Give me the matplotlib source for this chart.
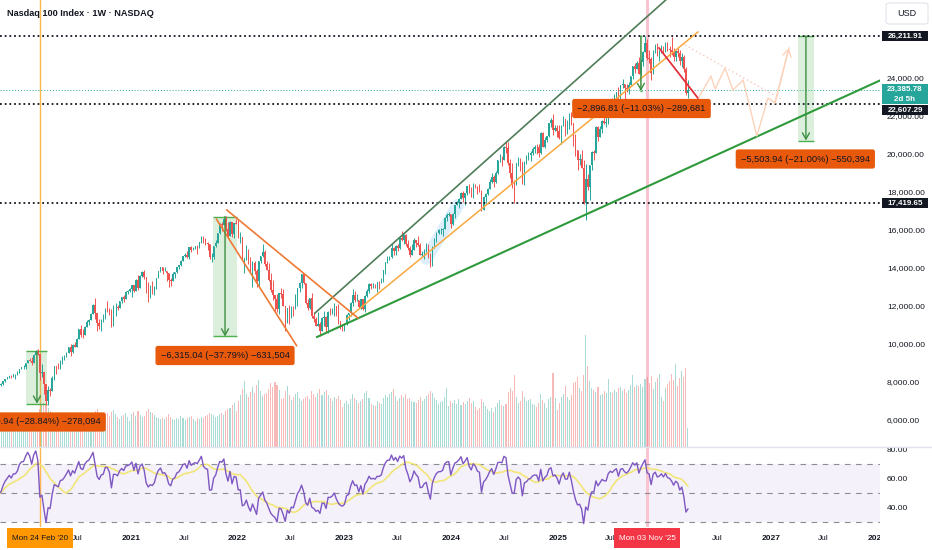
import numpy as np
import pandas as pd
import matplotlib
matplotlib.use("Agg")
import matplotlib.pyplot as plt
import matplotlib.dates as mdates
import matplotlib.transforms as mtrans
from matplotlib.patches import Rectangle, FancyBboxPatch
from matplotlib.lines import Line2D

plt.rcParams['font.family'] = ['Liberation Sans', 'DejaVu Sans']

# ---------------- weekly data (Nasdaq 100, 1W), weeks start 2019-07-01 ----------------
first_week = '2019-07-01'

close_2019 = [7860, 7940, 7830, 7990, 7640, 7580, 7530, 7350, 7630, 7850, 7900, 7820, 7700, 7750,
              7850, 7880, 8040, 8160, 8240, 8330, 8280, 8400, 8400, 8480, 8690, 8780, 8790]
high_2019 = [7880, 7960, 8000, 8000, 8030, 7640, 7670, 7700, 7660, 7870, 7940, 7950, 7880, 7780,
             7890, 7960, 8060, 8170, 8270, 8340, 8350, 8430, 8420, 8560, 8700, 8800, 8870]
low_2019 = [7700, 7810, 7810, 7820, 7580, 7260, 7420, 7320, 7340, 7550, 7820, 7800, 7620, 7480,
            7600, 7800, 7850, 8020, 8150, 8220, 8200, 8300, 8170, 8360, 8520, 8690, 8700]
vol_2019 = [1.9, 2.0, 1.8, 2.1, 2.6, 2.5, 2.2, 2.3, 2.1, 2.2, 2.3, 2.0, 2.1, 2.4,
            2.2, 2.1, 2.3, 2.2, 2.0, 2.1, 2.2, 1.9, 2.3, 2.1, 2.5, 2.2, 1.7]

close_2020 = [8990, 9170, 9120, 9000, 9400, 9620, 9450, 8460, 8530, 7880, 6990, 7590, 7530,
              8230, 8830, 8780, 8720, 9120, 9150, 9320, 9550, 9820, 9590, 9950, 9850, 10280,
              10770, 10500, 10460, 10900, 11140, 11250, 11600, 12050, 11620, 11090, 10940, 11260,
              11320, 11860, 11850, 11670, 10940, 11940, 11940, 11870, 12260, 12470, 12380, 12760,
              12800, 12890]
high_2020 = [9020, 9180, 9280, 9300, 9470, 9640, 9720, 9250, 8930, 8370, 7850, 7810, 7660,
             8330, 8840, 8800, 9020, 9140, 9350, 9400, 9560, 9850, 10010, 10000, 10120, 10330,
             10790, 11000, 10800, 10940, 11240, 11330, 11650, 12090, 12440, 11600, 11330, 11320,
             11590, 11880, 12250, 11920, 11820, 12070, 12170, 12030, 12270, 12480, 12590, 12770,
             12840, 12970]
low_2020 = [8710, 8980, 9090, 8900, 9030, 9420, 9400, 8090, 8240, 7390, 6770, 6780, 7290,
            7820, 8120, 8430, 8660, 8700, 8930, 9220, 9330, 9550, 9390, 9520, 9820, 9840,
            10360, 10350, 10320, 10480, 10900, 10990, 11260, 11600, 11300, 10660, 10800, 10680,
            11150, 11300, 11700, 11530, 10870, 11030, 11470, 11780, 11910, 12160, 12200, 12430,
            12610, 12740]
vol_2020 = [2.3, 2.4, 2.5, 2.9, 2.6, 2.4, 2.5, 3.8, 4.2, 4.4, 4.3, 3.9, 3.6, 3.2, 3.4, 3.1, 3.3,
            3.0, 3.2, 2.9, 2.8, 3.3, 3.4, 3.0, 3.2, 3.1, 3.3, 3.5, 3.0, 3.4, 3.2, 3.1, 3.0, 3.3,
            3.6, 3.8, 3.4, 3.3, 3.0, 3.2, 3.4, 3.1, 3.5, 3.7, 3.3, 3.0, 2.8, 3.1, 3.2, 3.4, 3.0, 2.6]

close_2021 = [13100, 12800, 13370, 12930, 13600, 13800, 13530, 12900, 12670, 12820, 12780, 12950,
              13480, 13850, 14040, 13820, 13860, 13720, 13390, 13300, 13690, 13770, 14070, 14140,
              14360, 14640, 14700, 14560, 15110, 14960, 15080, 15150, 15120, 15370, 15650, 15370,
              15300, 15280, 14570, 14580, 15150, 15330, 15850, 16320, 16290, 16570, 16030, 15710,
              16410, 15790, 16360, 16320]
high_2021 = [13110, 13040, 13400, 13630, 13630, 13820, 13880, 13520, 13270, 13120, 13300, 13060,
             13490, 13860, 14060, 14010, 14060, 13850, 13740, 13480, 13770, 13800, 14080, 14170,
             14400, 14650, 14800, 14900, 15120, 15170, 15130, 15170, 15190, 15380, 15670, 15700,
             15560, 15360, 15290, 14780, 15160, 15450, 15860, 16350, 16400, 16640, 16760, 16440,
             16450, 16440, 16380, 16570]
low_2021 = [12480, 12750, 12960, 12830, 13000, 13530, 13400, 12680, 12210, 12400, 12640, 12600,
            12900, 13490, 13800, 13700, 13820, 13320, 12990, 13080, 13350, 13500, 13760, 13930,
            14090, 14420, 14590, 14530, 14460, 14820, 14950, 14990, 14720, 15080, 15340, 15340,
            15200, 14940, 14450, 14300, 14490, 15100, 15310, 15800, 15970, 16260, 15960, 15560,
            15760, 15610, 15570, 16310]
vol_2021 = [3.3, 3.5, 3.1, 3.6, 3.2, 3.0, 3.1, 3.6, 3.8, 3.5, 3.4, 3.2, 3.0, 2.9, 2.8, 2.9, 2.8,
            3.0, 3.3, 3.0, 2.8, 2.7, 2.9, 2.8, 3.1, 2.9, 2.7, 2.9, 3.0, 3.1, 2.8, 2.6, 2.9, 2.8,
            3.0, 2.9, 3.1, 3.2, 3.4, 3.3, 3.2, 3.0, 3.1, 3.3, 3.4, 3.2, 3.6, 3.8, 3.9, 4.2, 4.4, 3.6]

close_2022 = [15600, 15610, 14440, 14510, 14790, 14250, 13850, 14270, 13840, 13300, 14370, 14610,
              14840, 14190, 13900, 13370, 12850, 12580, 12390, 11840, 12680, 12620, 12010, 11130,
              11870, 11530, 11960, 11880, 12400, 12950, 13210, 13690, 13190, 12140, 11870, 12430,
              11450, 11310, 10970, 11040, 10690, 11390, 11400, 10880, 11700, 11680, 11790, 12010,
              11550, 11200, 11010, 10940]
high_2022 = [16560, 15900, 15420, 14540, 15200, 14980, 14570, 14380, 14390, 13950, 14390, 14650,
             15270, 14930, 14370, 14260, 13720, 13350, 12560, 12610, 12690, 12950, 12900, 11680,
             11890, 12080, 12020, 12000, 12650, 12970, 13260, 13690, 13720, 13200, 12350, 12440,
             12700, 11660, 11440, 11660, 11160, 11430, 11720, 11450, 11730, 11880, 11900, 12140,
             12010, 12120, 11230, 11040]
low_2022 = [15580, 15300, 14410, 13720, 14400, 14220, 13760, 13020, 13700, 13020, 13050, 14240,
            14600, 14100, 13890, 13320, 12760, 12310, 11740, 11680, 11580, 12440, 11990, 10690,
            11140, 11040, 11360, 11500, 11840, 12000, 12760, 12960, 13150, 12130, 11770, 11860,
            11380, 11150, 10970, 11000, 10440, 10730, 10970, 10600, 10560, 11510, 11590, 11450,
            11500, 11040, 10810, 10690]
vol_2022 = [4.6, 5.2, 5.8, 6.6, 5.3, 5.0, 5.5, 6.0, 5.4, 6.2, 6.7, 5.6, 5.1, 5.3, 5.4, 5.8, 6.4,
            6.0, 6.5, 6.2, 5.7, 4.8, 4.9, 5.6, 6.1, 5.2, 4.7, 5.0, 5.3, 5.5, 4.9, 4.6, 4.8, 5.0,
            5.1, 4.8, 5.6, 5.3, 5.0, 5.4, 5.8, 5.2, 5.5, 5.7, 5.2, 4.9, 4.6, 5.0, 4.8, 5.1, 4.7, 4.0]

close_2023 = [11040, 11540, 11620, 12170, 12570, 12300, 12340, 11940, 12350, 11830, 12520, 12770,
              13180, 13030, 13080, 13040, 13250, 13240, 13340, 13870, 14300, 14550, 14560, 15080,
              14890, 15180, 15030, 15570, 15500, 15750, 15270, 15040, 14700, 14940, 15460, 15300,
              15200, 14700, 14720, 14920, 15000, 14570, 14180, 15100, 15530, 15840, 15980, 15990,
              16080, 16620, 16800, 16830]
high_2023 = [11120, 11560, 11640, 12200, 12880, 12800, 12650, 12200, 12360, 12320, 12580, 12890,
             13190, 13200, 13200, 13170, 13260, 13310, 13470, 13900, 14330, 14620, 14650, 15280,
             15090, 15200, 15260, 15640, 15930, 15810, 15790, 15490, 15150, 15240, 15560, 15500,
             15660, 15310, 14870, 15010, 15340, 15290, 14800, 15140, 15580, 15890, 16060, 16090,
             16100, 16660, 16880, 16970]
low_2023 = [10700, 10990, 11250, 11500, 12020, 12200, 12260, 11870, 11820, 11810, 11700, 12470,
            12710, 12910, 12940, 12930, 12720, 12920, 13200, 13280, 13700, 14250, 14400, 14520,
            14690, 14680, 14920, 15020, 15400, 15250, 15150, 14950, 14560, 14710, 15000, 15120,
            15150, 14660, 14580, 14500, 14860, 14550, 14060, 14110, 15030, 15380, 15800, 15770,
            15710, 16080, 16500, 16760]
vol_2023 = [4.4, 4.6, 4.3, 4.8, 5.3, 4.9, 4.7, 4.4, 4.6, 4.8, 5.4, 5.6, 4.9, 4.3, 4.2, 4.1, 4.6,
            4.4, 4.3, 4.9, 5.2, 5.0, 5.3, 5.5, 5.8, 5.1, 4.6, 4.9, 5.2, 5.0, 5.3, 4.8, 4.9, 4.6,
            4.5, 4.4, 4.7, 5.0, 4.6, 4.8, 5.1, 5.3, 5.6, 5.4, 4.9, 4.7, 4.3, 4.5, 4.6, 5.0, 5.9, 4.1]

close_2024 = [16310, 16830, 17310, 17420, 17640, 17960, 17690, 17940, 18300, 17960, 17810, 18340,
              18250, 18050, 18000, 17040, 17720, 17890, 18160, 18550, 18810, 18540, 19000, 19660,
              19700, 19680, 20390, 20330, 19520, 19020, 18440, 18410, 19510, 19720, 19570, 18420,
              19580, 19690, 19950, 20030, 20270, 20360, 20350, 20030, 21120, 20390, 20740, 20930,
              21620, 21780, 21290, 21390, 21200]
high_2024 = [16800, 16900, 17340, 17530, 17680, 18000, 18040, 17970, 18310, 18420, 18280, 18460,
             18420, 18320, 18430, 18090, 17790, 17930, 18200, 18690, 18980, 18900, 19090, 19670,
             19980, 19900, 20400, 20690, 20650, 19720, 19510, 18610, 19530, 19840, 19780, 19440,
             19620, 19960, 20120, 20150, 20350, 20460, 20530, 20550, 21180, 21140, 20900, 20970,
             21650, 21880, 22130, 21550, 21510]
low_2024 = [16130, 16270, 16630, 17300, 17180, 17630, 17480, 17330, 17840, 17940, 17760, 17710,
            18200, 17870, 17980, 17010, 17120, 17440, 17860, 18150, 18490, 18290, 18460, 18960,
            19580, 19350, 19660, 20070, 19430, 18730, 18200, 17420, 18380, 19390, 19090, 18410,
            18370, 19450, 19820, 19650, 19930, 20080, 20000, 19850, 20010, 20360, 20300, 20640,
            20880, 21420, 20980, 21200, 20900]
vol_2024 = [4.6, 4.4, 4.7, 4.3, 4.8, 4.2, 4.5, 4.3, 4.6, 4.9, 4.4, 4.6, 4.0, 3.7, 3.9, 4.8, 4.5,
            4.1, 3.8, 3.6, 3.9, 3.5, 4.0, 4.4, 4.7, 4.2, 4.1, 4.3, 5.5, 5.9, 5.6, 7.2, 5.0, 4.4,
            4.6, 5.6, 5.0, 4.6, 4.7, 4.8, 4.3, 4.2, 4.0, 4.4, 5.3, 4.7, 4.4, 3.9, 4.8, 5.0, 7.4,
            4.9, 3.7]

close_2025 = [20850, 21500, 21850, 21480, 21490, 22110, 21610, 20880, 20200, 19700, 19750, 19280,
              17400, 18690, 18260, 19430, 20100, 20060, 21430, 20920, 21340, 21760, 21630, 21630,
              22530, 22870, 22780, 23070, 23270, 22760, 23610, 23710, 23500, 23420, 23650, 24090,
              24630, 24500, 24790, 24220, 24820, 25360, 25860, 25060, 25000, 24250, 25400, 25650,
              25300, 25400, 25650, 25450]
high_2025 = [21540, 21510, 22000, 21850, 21770, 22140, 22220, 21580, 21070, 20140, 19980, 20200,
             19700, 19450, 18940, 19440, 20140, 20200, 21450, 21480, 21500, 21780, 21990, 21940,
             22540, 22890, 22930, 23140, 23290, 23510, 23650, 23960, 23710, 23700, 23790, 24100,
             24650, 24790, 24900, 25100, 25020, 25400, 26211.91, 26050, 25500, 25100, 25450, 25800,
             25850, 25500, 25750, 25700]
low_2025 = [20800, 20540, 21500, 20950, 21030, 21300, 21550, 20400, 19900, 19150, 19400, 19240,
            17350, 16540, 18090, 17600, 19180, 19700, 20500, 20690, 20900, 21120, 21590, 21440,
            21600, 22480, 22630, 22650, 22930, 22660, 22700, 23470, 22900, 23280, 23150, 23630,
            23960, 24280, 24450, 24200, 24100, 24650, 25400, 24950, 24800, 23900, 24200, 25300,
            25150, 24900, 25300, 25300]
vol_2025 = [4.4, 5.0, 5.3, 6.1, 5.0, 4.7, 5.2, 6.4, 6.5, 7.0, 5.9, 5.6, 7.2, 11.1, 8.0, 6.6, 5.9,
            5.7, 5.5, 6.0, 5.2, 5.3, 5.6, 5.4, 6.8, 5.5, 5.4, 5.7, 5.5, 5.9, 6.0, 5.6, 5.8, 5.4,
            5.7, 6.2, 7.2, 6.0, 6.2, 6.1, 6.3, 6.0, 6.8, 7.0, 6.4, 7.1, 5.8, 6.5, 6.9, 7.3, 5.0, 4.6]

close_2026 = [25800, 25550, 25500, 25350, 25100, 25400, 25300, 24900, 25100, 24500, 23200, 23385.78]
high_2026 = [25900, 25900, 25700, 26150, 25600, 25500, 25600, 25500, 25300, 25200, 24600, 23900]
low_2026 = [25350, 25400, 25100, 25200, 24900, 24900, 25100, 24700, 24600, 24300, 23100, 22950]
vol_2026 = [5.9, 6.3, 6.6, 7.3, 6.7, 8.2, 6.1, 6.9, 7.5, 7.0, 7.8, 1.9]

# ---------------- levels and drawings (dates / prices) ----------------
level_prices = [26211.91, 22607.29, 17419.65]
last_price = 23385.78
price_ticks = [6000, 8000, 10000, 12000, 14000, 16000, 18000, 20000, 22000, 24000]
rsi_ticks = [40, 60, 80]

upper_channel = (['2022-09-23', '2026-01-06'], [11630, 28107])
mid_channel = (['2023-01-10', '2026-04-26'], [11317, 26422])
support_line = (['2022-09-30', '2028-01-13'], [10370, 23896])
down_a = (['2021-11-25', '2023-02-17'], [17054, 11370])
down_b = (['2021-10-21', '2022-07-22'], [16564, 9912])
red_line = (['2025-12-14', '2026-04-26'], [25580, 22949])
path_dates = ['2026-04-30', '2026-06-10', '2026-06-24', '2026-07-28', '2026-08-24',
              '2026-09-28', '2026-11-14', '2026-12-22', '2027-01-15', '2027-03-04']
path_prices = [23001, 24107, 23423, 24528, 23370, 23896, 20949, 22949, 22686, 25580]
hint_line = (['2026-03-13', '2027-02-11'], [25738, 22843])
highlight_stroke = (['2023-10-10', '2024-01-25'], [14500, 17300])

# measure tools: (start, end, arrow date, top, bottom, label, label date, label price)
measures = [
    ('2020-01-07', '2020-03-19', '2020-02-14', 9642.5, 6861.6,
     '\u22122,780.94 (\u221228.84%) \u2212278,094', '2020-02-12', 5896),
    ('2021-10-08', '2021-12-30', '2021-11-19', 16711, 10396,
     '\u22126,315.04 (\u221237.79%) \u2212631,504', '2021-11-19', 9396),
    ('2025-10-10', '2025-10-16', '2025-10-13', 26211.91, 23315.10,
     '\u22122,896.81 (\u221211.03%) \u2212289,681', '2025-10-15', 22396),
    ('2027-04-04', '2027-05-29', '2027-05-01', 26211.91, 20707.97,
     '\u22125,503.94 (\u221221.00%) \u2212550,394', '2027-04-29', 19738),
]
mark_dates = ['2020-02-24', '2025-11-03']
mark_labels = ["Mon 24 Feb '20", "Mon 03 Nov '25"]

# (the 2026 tick sits under the highlighted date box in the reference, so it is not drawn)
date_ticks = ['2020-07-01', '2021-01-01', '2021-07-01', '2022-01-01', '2022-07-01', '2023-01-01',
              '2023-07-01', '2024-01-01', '2024-07-01', '2025-01-01', '2025-07-01',
              '2026-07-01', '2027-01-01', '2027-07-01', '2028-01-01']
date_labels = ['Jul', '2021', 'Jul', '2022', 'Jul', '2023', 'Jul', '2024', 'Jul', '2025', 'Jul',
               'Jul', '2027', 'Jul', '2028']

# ---------------- assemble ----------------
closes = np.array(close_2019 + close_2020 + close_2021 + close_2022 + close_2023 + close_2024
                  + close_2025 + close_2026, dtype=float)
highs = np.array(high_2019 + high_2020 + high_2021 + high_2022 + high_2023 + high_2024
                 + high_2025 + high_2026, dtype=float)
lows = np.array(low_2019 + low_2020 + low_2021 + low_2022 + low_2023 + low_2024
                + low_2025 + low_2026, dtype=float)
vols = np.array(vol_2019 + vol_2020 + vol_2021 + vol_2022 + vol_2023 + vol_2024
                + vol_2025 + vol_2026, dtype=float)
n = min(len(closes), len(highs), len(lows), len(vols))
closes, highs, lows, vols = closes[:n], highs[:n], lows[:n], vols[:n]
dates = pd.date_range(first_week, periods=n, freq='7D')
xs = mdates.date2num(dates)
opens = np.r_[closes[0], closes[:-1]]
up = closes >= opens
highs = np.maximum(highs, np.maximum(opens, closes))
lows = np.minimum(lows, np.minimum(opens, closes))


def rsi_wilder(c, length=14):
    d = np.diff(c, prepend=np.nan)
    g = np.where(d > 0, d, 0.0)
    l = np.where(d < 0, -d, 0.0)
    out = np.full(len(c), np.nan)
    ag = g[1:length + 1].mean()
    al = l[1:length + 1].mean()
    out[length] = 100 - 100 / (1 + ag / al)
    for i in range(length + 1, len(c)):
        ag = (ag * (length - 1) + g[i]) / length
        al = (al * (length - 1) + l[i]) / length
        out[i] = 100.0 if al == 0 else 100 - 100 / (1 + ag / al)
    return out


rsi = rsi_wilder(closes)
rsi_ma = pd.Series(rsi).rolling(14, min_periods=1).mean().values

def dn(s):
    return mdates.date2num(pd.Timestamp(s))

# ---------------- figure ----------------
W, H = 932, 550
PLOT_W, PRICE_BOT, RSI_BOT = 880, 447, 527
fig = plt.figure(figsize=(W / 100, H / 100), dpi=100)
fig.patch.set_facecolor('white')
rect_p = [0, 1 - PRICE_BOT / H, PLOT_W / W, PRICE_BOT / H]
axv = fig.add_axes(rect_p)
ax = fig.add_axes(rect_p, sharex=axv)
ax.patch.set_visible(False)
axr = fig.add_axes([0, 1 - RSI_BOT / H, PLOT_W / W, (RSI_BOT - PRICE_BOT) / H], sharex=axv)

d21 = dn('2021-01-01')
DPP = 365.25 / 106.67
axv.set_xlim(d21 - 131 * DPP, d21 + 749 * DPP)
YMIN, YMAX = 4580, 28107
ax.set_ylim(YMIN, YMAX)
ppu = PRICE_BOT / (YMAX - YMIN)

UP, DN = '#26a69a', '#ef5350'
INK = '#131722'

# volume + background marks
axv.set_axis_off()
axv.set_ylim(0, vols.max() * 4.0)
axv.bar(xs, vols, width=3.6, color=np.where(up, UP, DN), alpha=0.4, lw=0, zorder=2)
mx0, mx1 = dn(mark_dates[0]), dn(mark_dates[1])
for a in (axv, axr):
    a.axvline(mx0, color='#ffb74d', lw=1.0, zorder=1)
    a.axvspan(mx1 - 5, mx1 + 5, color='#f9c4cf', lw=0, zorder=1)

# highlighter stroke
ax.plot([dn(d) for d in highlight_stroke[0]], highlight_stroke[1], color='#90caf9', lw=9,
        alpha=0.3, solid_capstyle='round', zorder=1)

# candles
cols = np.where(up, UP, DN)
ax.vlines(xs, lows, highs, colors=cols, lw=0.7, zorder=3)
ax.bar(xs, np.maximum(np.abs(closes - opens), 30), bottom=np.minimum(opens, closes),
       width=4.6, color=cols, lw=0, zorder=4)

# horizontal levels
for lv in level_prices:
    ax.axhline(lv, color=INK, lw=1.3, ls=(0, (1, 1.6)), zorder=5)
ax.axhline(last_price, color=UP, lw=0.7, ls=(0, (1, 2)), zorder=5)

# trend lines
def seg(spec, **kw):
    ax.plot([dn(d) for d in spec[0]], spec[1], **kw)

seg(upper_channel, color='#4e7d58', lw=1.2, zorder=6)
seg(mid_channel, color='#f9a83f', lw=1.1, zorder=6)
seg(support_line, color='#2f9a3c', lw=1.5, zorder=6)
seg(down_a, color='#ef7a35', lw=1.2, zorder=6)
seg(down_b, color='#ef7a35', lw=1.2, zorder=6)
seg(red_line, color='#e5303e', lw=1.3, zorder=6)
seg(hint_line, color='#f7c6bc', lw=1.0, ls=(0, (1, 2)), zorder=6)
px_path = [dn(d) for d in path_dates]
ax.plot(px_path, path_prices, color='#fcd3ba', lw=1.0, zorder=6)
ax.annotate('', xy=(px_path[-1], path_prices[-1]), xytext=(px_path[-2], path_prices[-2]),
            arrowprops=dict(arrowstyle='->,head_length=0.5,head_width=0.3', color='#fcd3ba',
                            lw=1.0, shrinkA=0, shrinkB=0), zorder=6)

# measure tools
GREEN = '#4caf50'
for d0, d1, da, top, bot, lab, ld, lp in measures:
    x0, x1, xa = dn(d0), dn(d1), dn(da)
    ax.add_patch(Rectangle((x0, bot), x1 - x0, top - bot, fc=GREEN, alpha=0.2, ec='none', zorder=2))
    ax.hlines([top, bot], x0, x1, colors=GREEN, lw=1.0, zorder=2.5)
    ax.annotate('', xy=(xa, bot), xytext=(xa, top),
                arrowprops=dict(arrowstyle='->,head_length=0.45,head_width=0.25', color='#3d8f41',
                                lw=1.0, shrinkA=0, shrinkB=0), zorder=7)
    ax.text(dn(ld), lp, lab, ha='center', va='center', fontsize=6.7, color=INK, zorder=8,
            bbox=dict(boxstyle='round,pad=0.55,rounding_size=0.25', fc='#e8590c', ec='none'))

# price axis
for a in (ax, axr):
    for s in a.spines.values():
        s.set_visible(False)
    a.tick_params(axis='x', bottom=False, labelbottom=False)
    a.yaxis.tick_right()
    a.tick_params(axis='y', length=0, pad=5, labelsize=6, labelcolor=INK)
ax.set_yticks(price_ticks)
ax.set_yticklabels([f'{v:,.2f}' for v in price_ticks])

# price tags
tb = mtrans.blended_transform_factory(ax.transAxes, ax.transData)
def tag(price, lines, fc, tc, top_px, bot_px, text_px):
    ax.add_patch(Rectangle((882 / PLOT_W, price - bot_px / ppu), 46 / PLOT_W,
                           (bot_px - top_px) / ppu, transform=tb, fc=fc, ec='none',
                           clip_on=False, zorder=10))
    for t, off in zip(lines, text_px):
        ax.text(905 / PLOT_W, price - off / ppu, t, transform=tb, ha='center', va='center',
                color=tc, fontsize=5.8, fontweight='bold', clip_on=False, zorder=11)

tag(level_prices[0], [f'{level_prices[0]:,.2f}'], INK, 'white', -5, 5, [0])
tag(level_prices[1], [f'{level_prices[1]:,.2f}'], INK, 'white', 0.8, 10.8, [5.8])
tag(level_prices[2], [f'{level_prices[2]:,.2f}'], INK, 'white', -5, 5, [0])
tag(last_price, [f'{last_price:,.2f}', '2d 5h'], '#26a69a', 'white', -5.7, 14.3, [0, 9.5])

# RSI pane
axr.set_ylim(26.3, 81.5)
axr.axhspan(30, 70, color='#7e57c2', alpha=0.08, lw=0, zorder=0)
for lv in (70, 50, 30):
    axr.axhline(lv, color='#8a8d96', lw=0.8, ls=(0, (5, 5)), zorder=1)
axr.plot(xs, rsi_ma, color='#f2e46a', lw=1.2, alpha=0.9, zorder=2)
axr.plot(xs, rsi, color='#7e57c2', lw=1.0, zorder=3)
axr.set_yticks(rsi_ticks)
axr.set_yticklabels([f'{v:.2f}' for v in rsi_ticks])

# date labels
tdate = mtrans.blended_transform_factory(axr.transData, fig.transFigure)
clipbox = mtrans.Bbox.from_extents(0, 0, PLOT_W, H)
for d, t in zip(date_ticks, date_labels):
    tx = fig.text(dn(d), 1 - 539 / H, t, transform=tdate, ha='center', va='center', fontsize=6,
                  fontweight='bold' if t.isdigit() else 'normal', color=INK, zorder=3)
    tx.set_clip_box(clipbox)
    tx.set_clip_on(True)

for d, t, fc, tc in zip(mark_dates, mark_labels, ['#ff9800', '#f23645'], [INK, 'white']):
    xc = dn(d)
    fig.add_artist(Rectangle((xc - 33 * DPP, 1 - 548 / H), 66 * DPP, 20 / H, transform=tdate,
                             fc=fc, ec='none', zorder=4))
    fig.text(xc, 1 - 538 / H, t, transform=tdate, ha='center', va='center', fontsize=5.9,
             color=tc, zorder=5)

# pane separator
fig.add_artist(Line2D([0, 1], [1 - PRICE_BOT / H] * 2, transform=fig.transFigure,
                      color='#e0e3eb', lw=1.0, zorder=2))

# title and currency box
fig.text(7 / W, 1 - 13 / H, 'Nasdaq 100 Index \u00b7 1W \u00b7 NASDAQ', ha='left', va='center',
         fontsize=6.6, fontweight='bold', color=INK)
fig.add_artist(FancyBboxPatch((886 / W, 1 - 24 / H), 42 / W, 21 / H,
                              boxstyle='round,pad=0,rounding_size=0.004',
                              transform=fig.transFigure, fc='white', ec='#e0e3eb', lw=0.8))
fig.text(907 / W, 1 - 13.5 / H, 'USD', ha='center', va='center', fontsize=6.5, color=INK)

fig.savefig('out.png', dpi=100)
